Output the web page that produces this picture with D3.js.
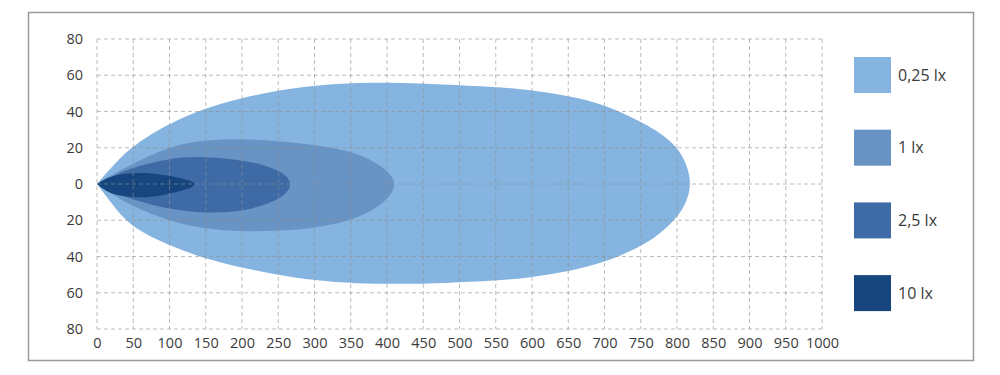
<!DOCTYPE html>
<html>
<head>
<meta charset="utf-8">
<script src="https://cdn.jsdelivr.net/npm/d3@7"></script>
<style>
  body { margin:0; background:#fff; }
  text { font-family:"Open Sans", "DejaVu Sans", sans-serif; fill:#3b3b3b; }
</style>
</head>
<body>
<div id="chart"></div>
<script>
"use strict";
// --- light distribution (lux isolines) ---

var levels = ["0,25 lx", "1 lx", "2,5 lx", "10 lx"];
var colors = ["#85b4e0", "#6893c5", "#3e6ba6", "#17467f"];

var xTicks = d3.range(0, 1001, 50);
var yTicks = [-80, -60, -40, -20, 0, 20, 40, 60, 80];

// each contour: upper edge left->right, lower edge right->left (distance m, width m)
var lx025_top = [[0,0],[25,11.6],[50,21.5],[100,33.5],[150,42],[200,47.5],[250,51.8],[300,54.4],[360,56],[420,55.9],[473,55],[550,53.6],[600,51.8],[650,48.6],[700,44],[750,34.5],[780,27.5],[800,20.5],[812,12],[818,4]];
var lx025_bot = [[818,-4],[810,-13],[795,-20.5],[775,-28],[750,-34.5],[700,-43.5],[650,-48.2],[600,-51.5],[550,-53.4],[480,-54.7],[420,-55.2],[357,-55],[300,-53.2],[250,-50.2],[200,-46.2],[150,-41.5],[100,-34],[50,-24.5],[25,-13.5],[0,0]];

var lx1_top = [[0,0],[25,6],[50,11.2],[100,21],[150,24.2],[190,25],[250,23.8],[300,21.6],[350,18.2],[380,13],[400,7.5],[410,2.5]];
var lx1_bot = [[410,-3],[400,-8.7],[380,-14.7],[350,-20.2],[300,-24.5],[250,-25.9],[200,-26.2],[150,-24.8],[100,-20.7],[50,-12.5],[25,-6.5],[0,0]];

var lx25_top = [[0,0],[25,5],[50,9.3],[100,14.2],[140,15.4],[200,13.2],[230,10.6],[250,7.4],[261,4.6],[266.5,1.5]];
var lx25_bot = [[266.5,-1.8],[261,-5.2],[250,-8.3],[230,-11.7],[200,-15.2],[150,-16.2],[100,-14.1],[50,-8.8],[25,-4.6],[0,0]];

var lx10_top = [[0,0],[12,3],[25,5],[50,6.2],[75,6.1],[100,4.5],[120,2.8],[135,1]];
var lx10_bot = [[135,-1.2],[120,-3.3],[100,-5.4],[75,-7.3],[50,-7.5],[25,-6.1],[12,-3.8],[0,0]];

var contours = [
  lx025_top.concat(lx025_bot),
  lx1_top.concat(lx1_bot),
  lx25_top.concat(lx25_bot),
  lx10_top.concat(lx10_bot)
];

var W = 1000, H = 375;

var svg = d3.select("#chart").append("svg")
  .attr("width", W)
  .attr("height", H);

var x = d3.scaleLinear().domain([0, 1000]).range([97, 822]);
var y = d3.scaleLinear().domain([-80, 80]).range([329, 39]);

// frame
svg.append("rect")
  .attr("x", 28.5).attr("y", 12.5)
  .attr("width", 945).attr("height", 348)
  .style("fill", "none")
  .style("stroke", "#9a9a9a")
  .style("stroke-width", 1.5);

// smooth B-spline through the read-off outline points
var line = d3.line()
  .x(function(d){ return x(d[0]); })
  .y(function(d){ return y(d[1]); })
  .curve(d3.curveBasis);

svg.append("g").selectAll("path")
  .data(contours)
  .enter()
    .append("path")
      .attr("d", function(d){ return line(d) + "Z"; })
      .style("fill", function(d, i){ return colors[i]; })
      .style("stroke", "none");

// grid on top of the fills
var grid = svg.append("g")
  .style("stroke", "#8f8f8f")
  .style("stroke-opacity", 0.6)
  .style("stroke-dasharray", "4,3")
  .style("stroke-width", 1);

grid.selectAll("line.v")
  .data(xTicks)
  .enter().append("line")
    .attr("class", "v")
    .attr("x1", function(d){ return x(d); })
    .attr("x2", function(d){ return x(d); })
    .attr("y1", y(80)).attr("y2", y(-80));

grid.selectAll("line.h")
  .data(yTicks)
  .enter().append("line")
    .attr("class", "h")
    .attr("x1", x(0)).attr("x2", x(1000))
    .attr("y1", function(d){ return y(d); })
    .attr("y2", function(d){ return y(d); });

// axes (labels only)
var xAxis = svg.append("g")
  .attr("transform", "translate(0," + 338 + ")")
  .call(d3.axisBottom(x).tickValues(xTicks).tickSize(0).tickPadding(0)
    .tickFormat(d3.format("d")));
var yAxis = svg.append("g")
  .attr("transform", "translate(" + 83 + ",0)")
  .call(d3.axisLeft(y).tickValues(yTicks).tickSize(0).tickPadding(0)
    .tickFormat(function(d){ return Math.abs(d); }));

[xAxis, yAxis].forEach(function(a){
  a.select(".domain").remove();
  a.selectAll("text")
    .style("font-family", "\"Open Sans\", sans-serif")
    .style("font-size", "14.5px")
    .style("fill", "#3b3b3b");
});

// legend
var legend = svg.append("g").selectAll("g")
  .data(levels)
  .enter().append("g")
    .attr("transform", function(d, i){ return "translate(854," + (57 + i * 72.7) + ")"; });

legend.append("rect")
  .attr("width", 37).attr("height", 36)
  .style("fill", function(d, i){ return colors[i]; });

legend.append("text")
  .attr("x", 44).attr("y", 18)
  .attr("dy", "0.35em")
  .style("font-size", "16px")
  .text(function(d){ return d; });
</script>
</body>
</html>
